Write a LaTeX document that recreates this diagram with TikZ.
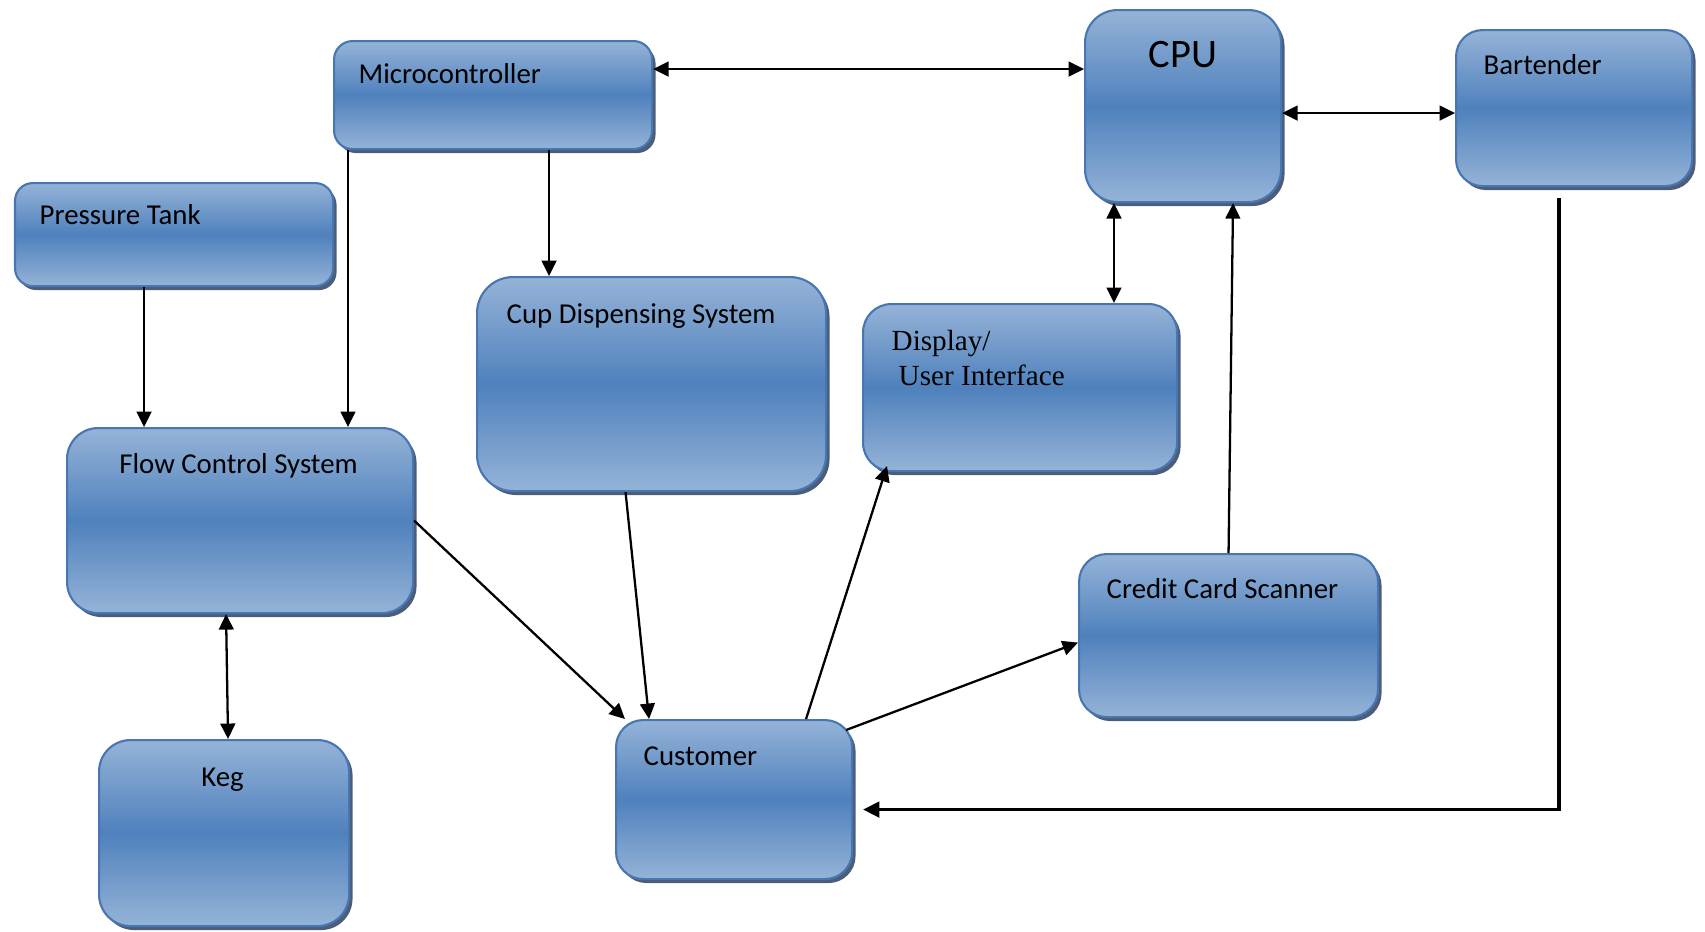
\documentclass[tikz,border=0pt]{standalone}
\usepackage{fontspec}
\setmainfont{Carlito}
\newfontfamily\serfont{Liberation Serif}
\usetikzlibrary{positioning,arrows.meta,shadows}
\definecolor{boxlight}{RGB}{149,179,215}
\definecolor{boxdark}{RGB}{79,129,189}
\definecolor{boxline}{RGB}{70,118,180}
\definecolor{boxshadow}{RGB}{45,65,95}
\tikzset{
 b/.style
  = {rectangle, draw=boxline, line width=0.6pt, anchor=north west, inner sep=0pt,
     top color=boxlight, bottom color=boxlight, middle color=boxdark,
     drop shadow={shadow xshift=0.035cm, shadow yshift=-0.04cm, fill=boxshadow, opacity=0.85}},
 mylabel/.style
  = {inner sep=0pt, font=\fontsize{8.2}{10}\selectfont},
 serlabel/.style
  = {inner sep=0pt, align=left, font=\serfont\fontsize{8.3}{9.9}\selectfont},
 l/.style
  = {draw, line width=0.65pt, -{Triangle[length=4.4pt,width=4.2pt]}},
 lr/.style
  = {draw, line width=0.65pt, {Triangle[length=4.4pt,width=4.2pt]}-{Triangle[length=4.4pt,width=4.2pt]}},
 lt/.style
  = {draw, line width=0.9pt, -{Triangle[length=4.6pt,width=4.4pt]}}
}
\begin{document}
\begin{tikzpicture}[auto]
    \useasboundingbox (0,0) rectangle (17.05,-9.31);

    \node [b, minimum width=3.18cm, minimum height=1.08cm, rounded corners=0.185cm] (mc) at (3.33,-0.40) {};
    \node [b, minimum width=1.96cm, minimum height=1.92cm, rounded corners=0.325cm] (cpu) at (10.84,-0.09) {};
    \node [b, minimum width=2.36cm, minimum height=1.56cm, rounded corners=0.265cm] (bt) at (14.55,-0.29) {};
    \node [b, minimum width=3.18cm, minimum height=1.03cm, rounded corners=0.177cm] (pt) at (0.14,-1.82) {};
    \node [b, minimum width=3.49cm, minimum height=2.14cm, rounded corners=0.36cm] (cup) at (4.76,-2.76) {};
    \node [b, minimum width=3.14cm, minimum height=1.67cm, rounded corners=0.283cm] (disp) at (8.62,-3.03) {};
    \node [b, minimum width=3.46cm, minimum height=1.85cm, rounded corners=0.31cm] (fcs) at (0.66,-4.27) {};
    \node [b, minimum width=2.99cm, minimum height=1.63cm, rounded corners=0.277cm] (ccs) at (10.78,-5.53) {};
    \node [b, minimum width=2.50cm, minimum height=1.86cm, rounded corners=0.315cm] (keg) at (0.98,-7.39) {};
    \node [b, minimum width=2.36cm, minimum height=1.59cm, rounded corners=0.27cm] (cus) at (6.15,-7.19) {};

    \node [mylabel, anchor=west] (mctext) at ([xshift=0.25cm,yshift=-0.34cm]mc.north west) {Microcontroller};
    \node [mylabel, font=\fontsize{11.5}{13}\selectfont] (cputext) at ([yshift=-0.46cm]cpu.north) {CPU};
    \node [mylabel, anchor=west] (bttext) at ([xshift=0.28cm,yshift=-0.36cm]bt.north west) {Bartender};
    \node [mylabel, anchor=west] (pttext) at ([xshift=0.25cm,yshift=-0.33cm]pt.north west) {Pressure Tank};
    \node [mylabel, anchor=west] (cuptext) at ([xshift=0.30cm,yshift=-0.40cm]cup.north west) {Cup Dispensing System};
    \node [serlabel, anchor=west] (disptext) at ([xshift=0.29cm,yshift=-0.55cm]disp.north west) {Display/\\\hspace*{0.07cm}User Interface};
    \node [mylabel] (fcstext) at ([xshift=-0.015cm,yshift=-0.39cm]fcs.north) {Flow Control System};
    \node [mylabel, anchor=west] (ccstext) at ([xshift=0.28cm,yshift=-0.36cm]ccs.north west) {Credit Card Scanner};
    \node [mylabel] (kegtext) at ([xshift=-0.015cm,yshift=-0.41cm]keg.north) {Keg};
    \node [mylabel, anchor=west] (custext) at ([xshift=0.28cm,yshift=-0.37cm]cus.north west) {Customer};

    \path [lr] ([yshift=0.26cm]mc.east) -- ([yshift=0.26cm]mc.east -| cpu.west);
    \path [lr] ([yshift=-0.07cm]cpu.east) -- ([yshift=-0.07cm]cpu.east -| bt.west);
    \path [l] ([xshift=0.56cm]mc.south) -- ([xshift=0.56cm]mc.south |- cup.north);
    \path [l] ([xshift=0.15cm]mc.south west) -- ([xshift=0.15cm]mc.south west |- fcs.north);
    \path [l] ([xshift=-0.30cm]pt.south) -- ([xshift=-0.30cm]pt.south |- fcs.north);
    \path [lr] ([xshift=-0.14cm]fcs.south) -- ([xshift=0.04cm]keg.north);
    \path [l] (fcs.east) -- ([xshift=0.1cm]cus.north west);
    \path [l] ([xshift=-0.26cm]cup.south) -- ([xshift=-0.85cm]cus.north);
    \path [l] ([xshift=0.72cm]cus.north) -- ([xshift=0.25cm,yshift=0.06cm]disp.south west);
    \path [l] ([xshift=-0.07cm,yshift=-0.11cm]cus.north east) -- ([yshift=-0.07cm]ccs.west);
    \path [l] (ccs.north) -- ([xshift=0.5cm]cpu.south);
    \path [lr] ([xshift=0.3cm]cpu.south west) -- ([xshift=0.3cm]cpu.south west |- disp.north);
    \path [lt] ([xshift=-0.15cm,yshift=-0.11cm]bt.south) |- ([xshift=0.1cm,yshift=-0.1cm]cus.east);

\end{tikzpicture}
\end{document}
